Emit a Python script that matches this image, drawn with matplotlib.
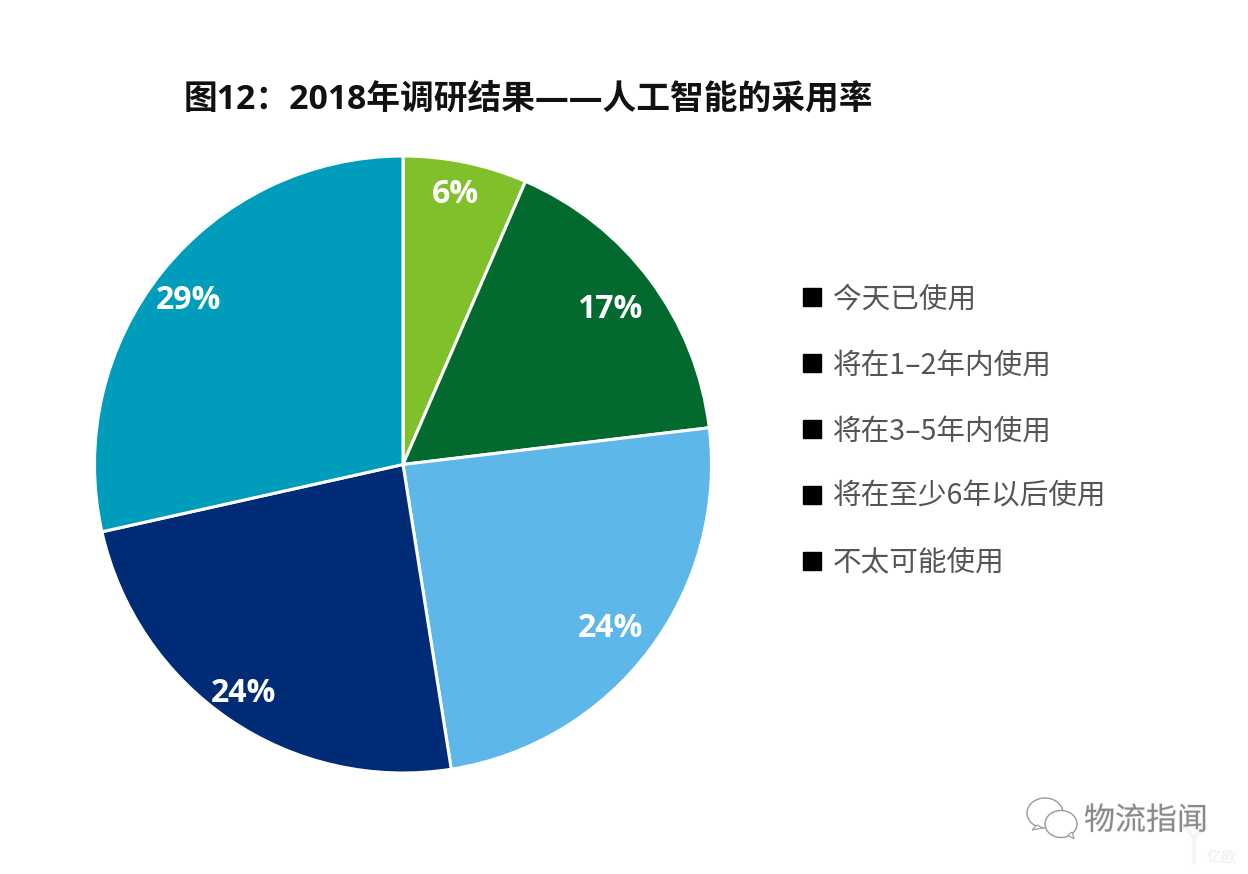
import numpy as np
import matplotlib
matplotlib.use("Agg")
import matplotlib.pyplot as plt
from matplotlib.lines import Line2D
from matplotlib.patches import Ellipse, Polygon
import matplotlib.patheffects as pe

title = "图12：2018年调研结果——人工智能的采用率"
categories = ["今天已使用", "将在1–2年内使用", "将在3–5年内使用", "将在至少6年以后使用", "不太可能使用"]
values = [6.5, 16.6, 24.4, 24.0, 28.5]
value_labels = ["6%", "17%", "24%", "24%", "29%"]
colors = ["#80C02B", "#026A2E", "#5DB7E9", "#002C77", "#009CBB"]
label_radii = [0.90, 0.85, 0.85, 0.90, 0.88]
label_shift_px = [(-4, -2), (-3, -2), (-2, -6), (-3, 1), (-3, -6)]

CJK = ["Noto Sans CJK SC", "DejaVu Sans"]
W, H = 1248, 874
fig = plt.figure(figsize=(W / 100, H / 100), dpi=100, facecolor="white")

# Pie
cx, cy, r = 403, 464.5, 308.5
ax = fig.add_axes([(cx - r) / W, 1 - (cy + r) / H, 2 * r / W, 2 * r / H])
wedges, _ = ax.pie(values, colors=colors, startangle=90, counterclock=False, radius=1,
                   wedgeprops=dict(edgecolor="white", linewidth=2.2))
ax.set_xlim(-1, 1)
ax.set_ylim(-1, 1)
ax.axis("off")
for w, lab, rr, (dx, dy) in zip(wedges, value_labels, label_radii, label_shift_px):
    a = np.deg2rad((w.theta1 + w.theta2) / 2)
    ax.annotate(lab, (rr * np.cos(a), rr * np.sin(a)), xytext=(dx * 0.72, dy * 0.72),
                textcoords="offset points", color="white", fontsize=23,
                fontweight="bold", family=["Open Sans"] + CJK, ha="center", va="center")

# Title
fig.text(184 / W, 1 - 100 / H, title, fontsize=24.3, fontweight="bold", family=["Open Sans"] + CJK,
         color="#111111", ha="left", va="center")

# Legend
handles = [Line2D([], [], linestyle="none", marker="s", markersize=13, color="black") for _ in categories]
leg = fig.legend(handles, categories, loc="upper left", bbox_to_anchor=(792 / W, 1 - 284.5 / H),
                 frameon=False, labelspacing=1.252, handletextpad=0.04, handlelength=1.4,
                 borderpad=0, borderaxespad=0, prop={"family": CJK, "size": 20.6})
for t in leg.get_texts():
    t.set_color("#555555")

# Watermark
wm = fig.add_axes([0, 0, 1, 1], facecolor="none")
wm.set_xlim(0, W)
wm.set_ylim(H, 0)
wm.axis("off")
for x0, y0, x1, y1 in [(1194, 862, 1194, 838), (1194, 838, 1184, 826), (1194, 838, 1205, 826)]:
    wm.plot([x0, x1], [y0, y1], color="#f5f5f5", linewidth=3, zorder=0)
for (x, y, a, b) in [(1045, 813, 36, 30), (1061, 824, 32, 27)]:
    wm.add_patch(Ellipse((x, y), a, b, facecolor="white", edgecolor="#9a9a9a", linewidth=1.0))
wm.add_patch(Polygon([[1068, 835], [1074, 839], [1072, 832]], closed=True, facecolor="white", edgecolor="#9a9a9a", linewidth=0.8))
wm.add_patch(Polygon([[1037, 825], [1032, 830], [1043, 828]], closed=True, facecolor="white", edgecolor="#9a9a9a", linewidth=0.8))
wm.text(1146, 821, "物流指闻", fontsize=22.3, family=CJK, color="#8a8a8a", ha="center", va="center",
        path_effects=[pe.withStroke(linewidth=1.0, foreground="#efefef")])
wm.text(1222, 858, "亿欧", fontsize=11, family=CJK, color="#eeeeee", ha="center", va="center")

fig.savefig("out.png", dpi=100, facecolor="white")
